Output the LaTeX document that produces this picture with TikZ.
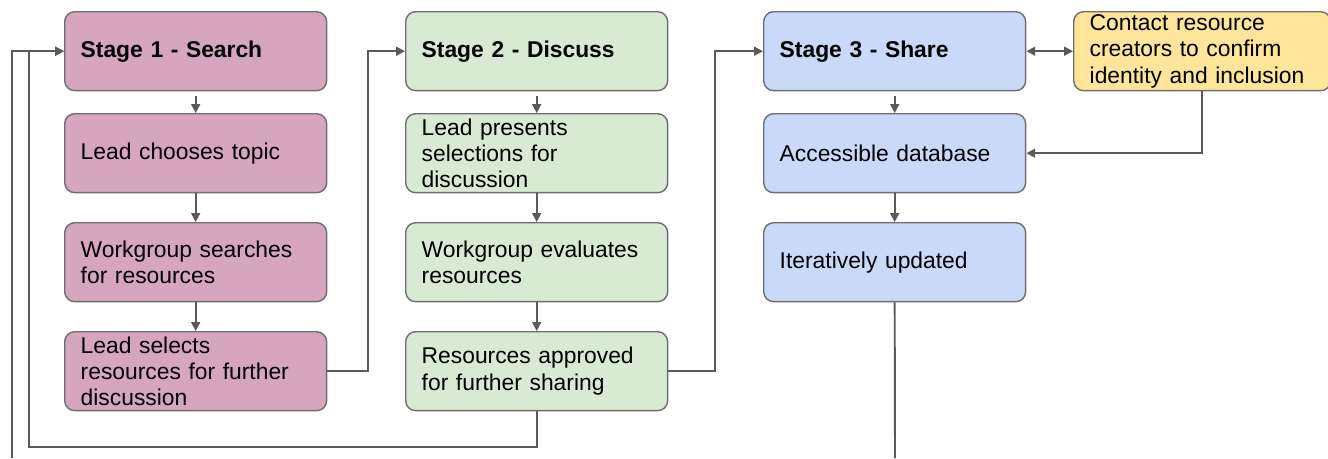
\documentclass[tikz,border=0pt]{standalone}
\usepackage{fontspec}
\setmainfont{Liberation Sans}
\usetikzlibrary{arrows.meta}
\definecolor{pinkfill}{HTML}{D5A6BD}
\definecolor{greenfill}{HTML}{D9EAD3}
\definecolor{bluefill}{HTML}{C9DAF8}
\definecolor{yellowfill}{HTML}{FFE599}
\definecolor{edgegray}{HTML}{6E6E6E}
\definecolor{linegray}{HTML}{5A5A5A}

\begin{document}
\begin{tikzpicture}[x=0.02cm,y=-0.02cm,
  box/.style={draw=edgegray,line width=0.8pt,rounded corners=0.2cm,anchor=north west,
    minimum width=5.24cm,minimum height=1.58cm,text width=4.6cm,inner xsep=0.32cm,inner ysep=0pt,
    align=left,font=\fontsize{13}{15}\selectfont},
  stagebox/.style={box,font=\fontsize{13}{15}\selectfont\bfseries},
  conn/.style={draw=linegray,line width=1.1pt,-{Triangle[length=5pt,width=5pt]}}]
  \useasboundingbox (0,0) rectangle (1328,458);

  % stage 1
  \node[stagebox,fill=pinkfill] (s1) at (64,11) {Stage 1 - Search};
  \node[box,fill=pinkfill] (s1a) at (64,113) {Lead chooses topic};
  \node[box,fill=pinkfill] (s1b) at (64,222) {Workgroup searches\\for resources};
  \node[box,fill=pinkfill] (s1c) at (64,331) {Lead selects\\resources for further\\discussion};

  % stage 2
  \node[stagebox,fill=greenfill] (s2) at (405,11) {Stage 2 - Discuss};
  \node[box,fill=greenfill] (s2a) at (405,113) {Lead presents\\selections for\\discussion};
  \node[box,fill=greenfill] (s2b) at (405,222) {Workgroup evaluates\\resources};
  \node[box,fill=greenfill] (s2c) at (405,331) {Resources approved\\for further sharing};

  % stage 3
  \node[stagebox,fill=bluefill] (s3) at (763,11) {Stage 3 - Share};
  \node[box,fill=bluefill] (s3a) at (763,113) {Accessible database};
  \node[box,fill=bluefill] (s3b) at (763,222) {Iteratively updated};
  \node[box,fill=yellowfill,minimum width=5.08cm,text width=4.5cm] (contact) at (1073,11)
    {Contact resource\\creators to confirm\\identity and inclusion};

  \coordinate (bl) at (12,458);
  \coordinate (br) at (895,458);

  \foreach \s in {s1,s2,s3}
    \draw[conn,shorten <=0.1cm] (\s.south) -- (\s a.north);
  \draw[conn] (s1a) -- (s1b);
  \draw[conn] (s1b) -- (s1c);
  \draw[conn] (s2a) -- (s2b);
  \draw[conn] (s2b) -- (s2c);
  \draw[conn] (s3a) -- (s3b);

  \draw[conn] (s1c.east) -- ++(41,0) |- (s2.west);
  \draw[conn] (s2c.east) -- ++(47,0) |- (s3.west);
  \draw[conn] (s2c.south) -- ++(0,36) -| ([xshift=-0.7cm]s1.west) -- (s1.west);
  \draw[conn] (bl) |- (s1.west);
  \draw[draw=linegray,line width=1.1pt] (s3b.south) -- (br);

  \draw[conn,{Triangle[length=5pt,width=5pt]}-{Triangle[length=5pt,width=5pt]}] (s3.east) -- (contact.west);
  \draw[conn] (contact.south) |- (s3a.east);
\end{tikzpicture}
\end{document}
